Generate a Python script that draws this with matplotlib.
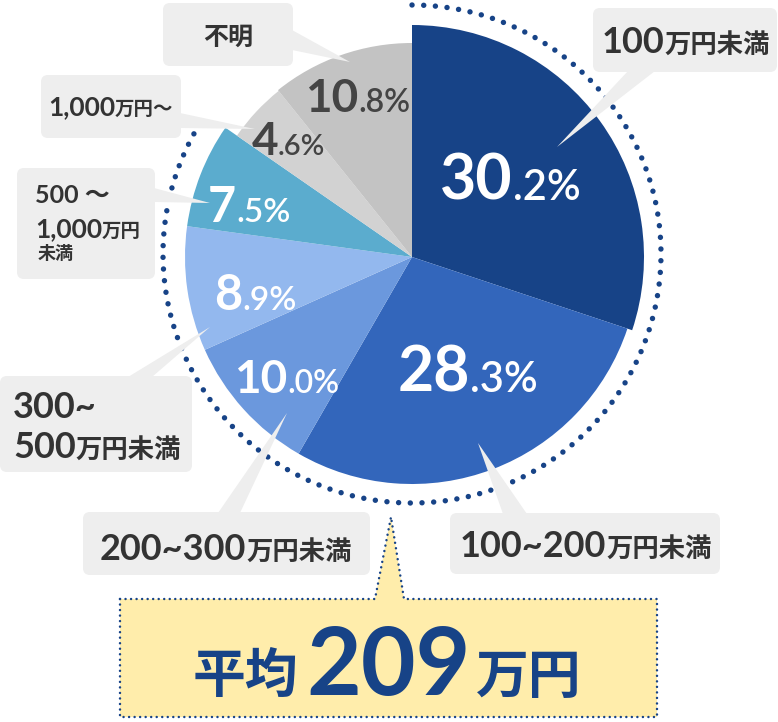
import matplotlib
matplotlib.use("Agg")
import matplotlib.pyplot as plt
import numpy as np
from matplotlib.patches import FancyBboxPatch

# data
categories = ['100万円未満', '100～200万円未満', '200～300万円未満', '300～500万円未満',
              '500～1,000万円未満', '1,000万円～', '不明']
shares = [30.2, 28.3, 10.0, 8.9, 7.5, 4.6, 10.8]
colors = ['#174387', '#3366bb', '#6b98dd', '#93b8ee', '#5bacce', '#d2d2d2', '#c3c3c3']
average = '209'

W, H = 778, 722
NAVY = '#174387'
NUM = ['Lato', 'Noto Sans CJK JP']
JP = ['Noto Sans CJK JP', 'DejaVu Sans']

fig = plt.figure(figsize=(W / 100, H / 100), dpi=100)
ax = fig.add_axes([0, 0, 1, 1])

# pie (y axis is flipped below, so counterclock=True turns clockwise on screen)
cx, cy = 412, 257
wedges, _ = ax.pie(shares, colors=colors, startangle=-90, counterclock=True,
                   center=(cx, cy), radius=227, wedgeprops=dict(linewidth=0))
wedges[0].set_radius(232)
wedges[5].set_radius(213)
wedges[6].set_radius(214)

ax.set_xlim(0, W)
ax.set_ylim(H, 0)
ax.set_aspect('equal')
ax.axis('off')

# dotted ring, screen angles from top going clockwise round to upper left
th = np.radians(np.linspace(-90, 210, 600))
ring, = ax.plot(cx + 249 * np.cos(th), 254 + 249 * np.sin(th), color=NAVY, lw=3.9,
                zorder=2)
ring.set_dashes((0.01, 2.15))
ring.set_dash_capstyle('round')

# percentage labels: (split x, baseline y, int size, dec size, color)
pct_pos = [(513, 200, 45, 30, 'white'),
           (470, 392, 45, 30, 'white'),
           (287, 393, 33, 23, 'white'),
           (242, 310, 35, 24, 'white'),
           (236, 222, 35, 24, 'white'),
           (278, 155, 33, 21, '#444444'),
           (358, 112, 33, 23, '#444444')]
for v, (x, y, s1, s2, c) in zip(shares, pct_pos):
    ip, dp = f'{v:.1f}'.split('.')
    ax.text(x, y, ip, fontsize=s1, fontweight='bold', family=NUM, color=c,
            ha='right', va='baseline', zorder=4)
    ax.text(x, y, '.' + dp + '%', fontsize=s2, fontweight='semibold', family=NUM,
            color=c, ha='left', va='baseline', zorder=4)

# callout pointers and boxes
BOXG = '#eeeeee'
pointers = [[(628, 71), (655, 71), (557, 147)],
            [(503, 514), (527, 514), (478, 443)],
            [(218, 513), (240, 513), (287, 413)],
            [(128, 377), (152, 377), (210, 327)],
            [(154, 188), (154, 202), (210, 203)],
            [(180, 113), (180, 128), (255, 129)],
            [(292, 30), (292, 50), (350, 62)]]
boxes = [(593, 8, 777, 72),
         (450, 513, 720, 574),
         (83, 512, 370, 575),
         (0, 376, 192, 472),
         (17, 168, 155, 279),
         (41, 75, 181, 138),
         (163, 3, 293, 66)]
for tri in pointers:
    xs, ys = zip(*tri)
    ax.fill(xs, ys, color=BOXG, lw=0, zorder=3)
for x0, y0, x1, y1 in boxes:
    ax.add_patch(FancyBboxPatch((x0, y0), x1 - x0, y1 - y0,
                                boxstyle='round,pad=0,rounding_size=7',
                                fc=BOXG, ec='none', zorder=3))

# label texts split in pieces: (start x, baseline y, [(text, size, family)])
label_lines = [
    [(602, 53, [('100', 26, NUM), ('万円未満', 19, JP)])],
    [(460, 557, [('100~200', 26, NUM), ('万円未満', 19, JP)])],
    [(100, 560, [('200~300', 26, NUM), ('万円未満', 19, JP)])],
    [(13, 418, [('300~', 26, NUM)]),
     (13, 458, [('500', 26, NUM), ('万円未満', 19, JP)])],
    [(35, 203, [('500 ～', 18, NUM)]),
     (35, 237, [('1,000', 19, NUM), ('万円', 14, JP)]),
     (38, 259, [('未満', 13, JP)])],
    [(48, 115, [('1,000', 19, NUM), ('万円～', 14, JP)])],
    [(203, 45, [('不明', 18, JP)])],
]
fig.canvas.draw()
rend = fig.canvas.get_renderer()
for lines in label_lines:
    for x, y, pieces in lines:
        for txt, size, fam in pieces:
            t = ax.text(x, y, txt, fontsize=size, fontweight='bold', family=fam,
                        color='#333333', ha='left', va='baseline', zorder=5)
            x += t.get_window_extent(renderer=rend).width

# average box with pointer
yx = [120, 375, 391, 404, 657, 657, 120, 120]
yy = [599, 599, 517, 599, 599, 717, 717, 599]
ax.fill(yx, yy, fc='#ffedab', lw=0, zorder=3)
edge, = ax.plot(yx, yy, color=NAVY, lw=1.8, zorder=4)
edge.set_dashes((0.01, 2.2))
edge.set_dash_capstyle('round')

ax.text(193, 693, '平均', fontsize=38, fontweight='bold', family=JP, color=NAVY,
        ha='left', va='baseline', zorder=5)
ax.text(306, 695, average, fontsize=68, fontweight='bold', family=NUM, color=NAVY,
        ha='left', va='baseline', zorder=5)
ax.text(476, 693, '万円', fontsize=38, fontweight='bold', family=JP, color=NAVY,
        ha='left', va='baseline', zorder=5)

fig.savefig('out.png', dpi=100)
